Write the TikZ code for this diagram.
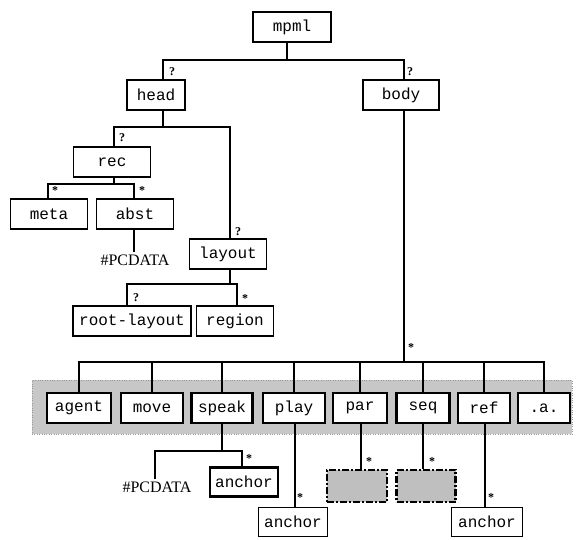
\documentclass[tikz,border=0pt]{standalone}
\usepackage{fontspec}
\setmainfont{Liberation Serif}
\setmonofont{Liberation Mono}
\begin{document}
\begin{tikzpicture}[x=1pt,y=-1pt,
  box/.style={draw, line width=1.8pt, fill=white, font=\ttfamily\fontsize{16}{16}\selectfont, minimum height=30pt, inner sep=0pt},
  rbox/.style={box, line width=2.6pt},
  dbox/.style={draw, line width=2.2pt, fill=black!25, dash pattern=on 7pt off 2pt on 2pt off 2pt, minimum width=60pt, minimum height=32pt, inner sep=0pt},
  band/.style={fill=black!22, draw=black!40, dotted, minimum width=540pt, minimum height=54pt, inner sep=0pt},
  conn/.style={line width=1.8pt},
  lab/.style={font=\bfseries\fontsize{12}{12}\selectfont, inner sep=0pt},
  pcd/.style={font=\fontsize{16}{16}\selectfont, inner sep=2pt}]
\useasboundingbox (0,0) rectangle (577,539);

% group band
\node[band] (grp) at (302,407) {};

% nodes
\node[box, minimum width=78pt] (mpml) at (292,27) {mpml};
\node[box, minimum width=58pt] (head) at (156,95) {head};
\node[box, minimum width=76pt] (body) at (401,95) {body};
\node[box, minimum width=77pt] (rec) at (112,162) {rec};
\node[box, minimum width=77pt] (meta) at (49,214) {meta};
\node[box, minimum width=77pt] (abst) at (135,214) {abst};
\node[pcd] (pcd1) at (135,260) {\#PCDATA};
\node[box, minimum width=77pt] (layout) at (228,254) {layout};
\node[box, minimum width=118pt] (rootl) at (132,321) {root-layout};
\node[box, minimum width=77pt] (region) at (235,321) {region};

\coordinate (bj) at (404,362);

% connectors (drawn before row boxes)
\draw[conn] ([xshift=-5pt]mpml.south) -- ++(0,17) coordinate (mj);
\draw[conn] ([xshift=7pt]head.north) |- (mj) -| ([xshift=3pt]body.north);
\draw[conn] ([xshift=7pt]head.south) -- ++(0,16) coordinate (hj);
\draw[conn] ([xshift=2pt]rec.north) |- (hj) -| ([xshift=2pt]layout.north);
\draw[conn] ([xshift=2pt]rec.south) -- ++(0,6) coordinate (rj);
\draw[conn] ([xshift=-1pt]meta.north) |- (rj) -| ([xshift=-1pt]abst.north);
\draw[conn] ([xshift=-1pt]abst.south) -- ([xshift=-1pt]abst.south |- pcd1.north);
\draw[conn] ([xshift=2pt]layout.south) -- ++(0,14) coordinate (lj);
\draw[conn] ([xshift=-5pt]rootl.north) |- (lj) -| ([xshift=2pt]region.north);
\draw[conn] ([xshift=3pt]body.south) -- (bj);

% row
\node[rbox, minimum width=64pt] (agent) at (79,408) {agent};
\node[rbox, minimum width=62pt] (move) at (152,408) {move};
\node[rbox, minimum width=61pt] (speak) at (222,408) {speak};
\node[rbox, minimum width=62pt] (play) at (294,408) {play};
\node[rbox, minimum width=54pt] (par) at (360,408) {par};
\node[rbox, minimum width=53pt] (seq) at (423,408) {seq};
\node[rbox, minimum width=52pt] (ref) at (484,408) {ref};
\node[rbox, minimum width=52pt] (dota) at (544,408) {.a.};

\draw[conn] (agent.north) |- (bj) -| (dota.north);
\foreach \n in {move,speak,play,par,seq,ref} \draw[conn] (\n.north) -- (\n.north |- bj);

% lower level
\node[pcd] (pcd2) at (157,487) {\#PCDATA};
\node[rbox, minimum width=68pt, minimum height=29pt] (anc1) at (244,482) {anchor};
\node[box, minimum width=69pt, minimum height=29pt] (anc2) at (293,522) {anchor};
\node[dbox] (d1) at (357,486) {};
\node[dbox, minimum width=59pt] (d2) at (426,486) {};
\node[box, minimum width=71pt, minimum height=29pt] (anc3) at (487,522) {anchor};

\draw[conn] (speak.south) -- ++(0,27) coordinate (sj);
\draw[conn] ([xshift=-2pt]pcd2.north) |- (sj) -| ([xshift=-2pt]anc1.north);
\draw[conn] ([xshift=1pt]play.south) -- ([xshift=1pt]play.south |- anc2.north);
\draw[conn] ([xshift=1pt]par.south) -- ([xshift=1pt]par.south |- d1.north);
\draw[conn] (seq.south) -- (seq.south |- d2.north);
\draw[conn] ([xshift=1pt]ref.south) -- ([xshift=1pt]ref.south |- anc3.north);

% multiplicity labels
\node[lab] (l1) at (172,72) {?};
\node[lab] (l2) at (410,72) {?};
\node[lab] (l3) at (122,138) {?};
\node[lab] (l4) at (55,191) {*};
\node[lab] (l5) at (142,191) {*};
\node[lab] (l6) at (238,232) {?};
\node[lab] (l7) at (136,298) {?};
\node[lab] (l8) at (245,299) {*};
\node[lab] (l9) at (411,348) {*};
\node[lab] (l10) at (249,459) {*};
\node[lab] (l11) at (300,498) {*};
\node[lab] (l12) at (369,462) {*};
\node[lab] (l13) at (432,462) {*};
\node[lab] (l14) at (491,498) {*};
\end{tikzpicture}
\end{document}
